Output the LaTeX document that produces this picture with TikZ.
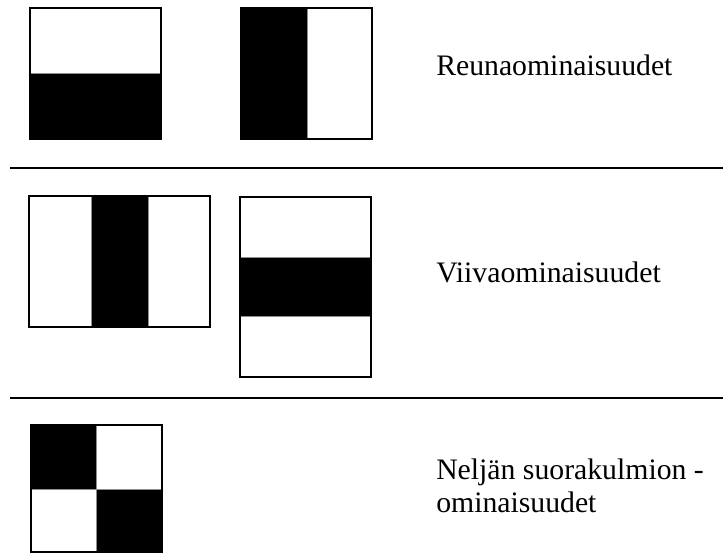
\documentclass[tikz,border=0pt]{standalone}
\usepackage{fontspec}
\setmainfont{Liberation Serif}
\usetikzlibrary{positioning}

\begin{document}
\begin{tikzpicture}[x=0.75pt, y=-0.75pt,
  boxframe/.style={draw=black, line width=2.2pt},
  blackpart/.style={fill=black},
  whitepart/.style={fill=white, draw=black!45, line width=0.5pt},
  featname/.style={anchor=base west, inner sep=0pt, align=left,
    font=\fontsize{22.3}{24.75}\selectfont},
  sepline/.style={line width=2.2pt}]
\useasboundingbox (0,0) rectangle (723,554);

% Edge features
\fill[blackpart] (30,8) rectangle (161,139);
\filldraw[whitepart] (30,8) rectangle (161,73);
\draw[boxframe] (30,8) rectangle (161,139);

\fill[blackpart] (241,8) rectangle (372,139);
\filldraw[whitepart] (307,8) rectangle (372,139);
\draw[boxframe] (241,8) rectangle (372,139);

\node[featname] (edge) at (436,75) {Reunaominaisuudet};

\draw[sepline] (10,168) -- (723,168);

% Line features
\fill[blackpart] (29,196) rectangle (210,327);
\filldraw[whitepart] (29,196) rectangle (91,327);
\filldraw[whitepart] (148,196) rectangle (210,327);
\draw[boxframe] (29,196) rectangle (210,327);

\fill[blackpart] (240,197) rectangle (371,377);
\filldraw[whitepart] (240,197) rectangle (371,257);
\filldraw[whitepart] (240,316) rectangle (371,377);
\draw[boxframe] (240,197) rectangle (371,377);

\node[featname] (line) at (436,282) {Viivaominaisuudet};

\draw[sepline] (10,398) -- (723,398);

% Four-rectangle features
\fill[blackpart] (31,425) rectangle (162,552);
\filldraw[whitepart] (96,425) rectangle (162,489);
\filldraw[whitepart] (31,489) rectangle (96,552);
\draw[boxframe] (31,425) rectangle (162,552);

\node[featname] (quad) at (436,512) {Neljän suorakulmion -\\ominaisuudet};

\end{tikzpicture}
\end{document}
